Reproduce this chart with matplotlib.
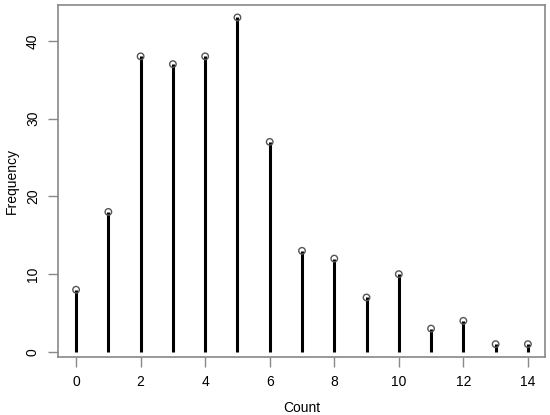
import numpy as np
import matplotlib.pyplot as plt

counts = [0, 1, 2, 3, 4, 5, 6, 7, 8, 9, 10, 11, 12, 13, 14]
freqs = [8, 18, 38, 37, 38, 43, 27, 13, 12, 7, 10, 3, 4, 1, 1]
xticks = [0, 2, 4, 6, 8, 10, 12, 14]
yticks = [0, 10, 20, 30, 40]

plt.rcParams['font.family'] = ['Liberation Sans', 'DejaVu Sans']

fig = plt.figure(figsize=(5.5, 4.15), dpi=100)
ax = fig.add_axes([58 / 550, 58 / 415, 487 / 550, 352 / 415])

ax.vlines(counts, 0, freqs, color='black', linewidth=2.2)
ax.scatter(counts, freqs, s=22, facecolors='none', edgecolors='#555555',
           linewidths=1.0, zorder=3)

ax.set_xlim(-0.56, 14.53)
ax.set_ylim(-0.65, 44.6)
ax.set_xticks(xticks)
ax.set_yticks(yticks)
ax.set_yticklabels([str(v) for v in yticks], rotation=90, va='center')

for s in ax.spines.values():
    s.set_color('#888888')
    s.set_linewidth(1.2)
ax.tick_params(colors='#888888', labelcolor='black', length=7, width=1,
               labelsize=10, pad=6)

ax.set_xlabel("Count", fontsize=10)
ax.set_ylabel("Frequency", fontsize=10)
ax.xaxis.set_label_coords(0.5, -0.125)
ax.yaxis.set_label_coords(-0.08, 0.5)

fig.savefig('out.png', dpi=100)
